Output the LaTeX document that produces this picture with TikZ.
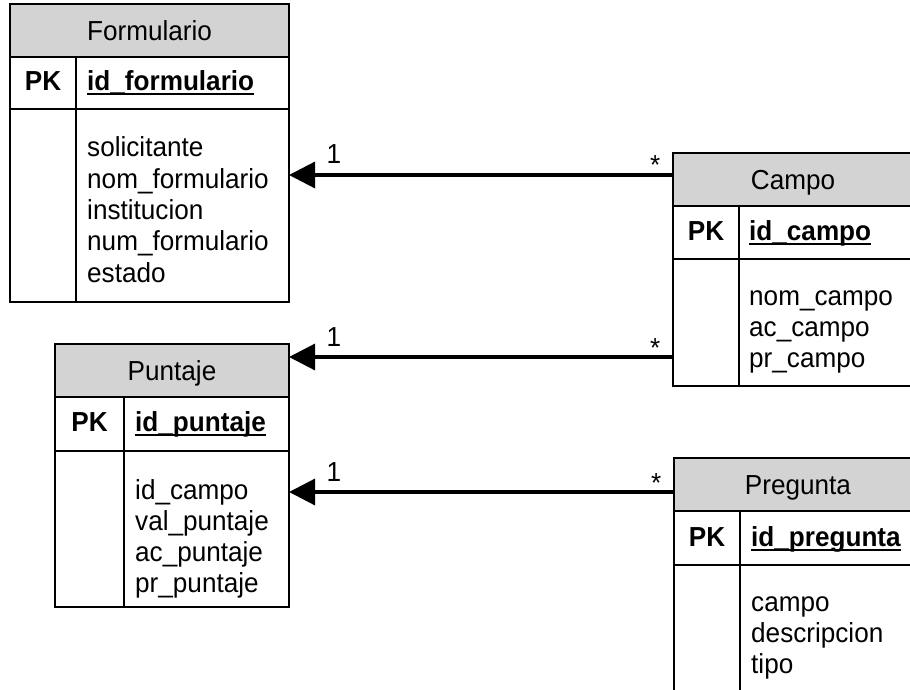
\documentclass[tikz,border=0pt]{standalone}
\usepackage{fontspec}
\setmainfont[FakeStretch=0.95]{Liberation Sans}
\usetikzlibrary{arrows.meta}
\definecolor{hdrgray}{RGB}{211,211,211}
\newcommand\erfont{\fontsize{27.5}{31.5}\selectfont}

\begin{document}
\begin{tikzpicture}[x=1pt,y=-1pt,
  tbl/.style={draw,line width=2pt,anchor=north west,inner sep=0,outer sep=0},
  thead/.style={tbl,fill=hdrgray,minimum height=53pt,text height=19.7pt,text depth=0pt,font=\erfont},
  tline/.style={line width=2pt},
  pkf/.style={anchor=base,inner sep=0,font=\erfont\bfseries},
  keyf/.style={anchor=base west,inner sep=0,font=\erfont\bfseries},
  uline/.style={line width=2pt},
  attr/.style={anchor=base west,inner sep=0,font=\erfont},
  rel/.style={line width=3.2pt,-{Triangle[length=26pt,width=26pt]}},
  one/.style={anchor=base west,xshift=36pt,yshift=11pt,inner sep=0,font=\erfont},
  many/.style={anchor=base east,xshift=-11pt,inner sep=0,font=\erfont}]
\useasboundingbox (0,0) rectangle (910,690);
\clip (0,0) rectangle (910,690);

% Formulario
\node[tbl,minimum width=279pt,minimum height=298pt] (form) at (10,4) {};
\node[thead,minimum width=279pt] (formH) at (10,4) {Formulario};
\draw[tline] (10,109) -- (289,109);
\draw[tline] (76,57) -- (76,302);
\node[pkf] (formPK) at (43,90.7) {PK};
\node[keyf] (formId) at (87,90.7) {id\_formulario};
\draw[uline] ([yshift=-3.6pt]formId.base west) -- ([yshift=-3.6pt]formId.base east);
\foreach \t [count=\i from 0] in {solicitante,nom\_formulario,institucion,num\_formulario,estado}
  \node[attr] (formA\i) at (87,157+31.3*\i) {\t};

% Campo
\node[tbl,minimum width=240pt,minimum height=233pt] (campo) at (673,153) {};
\node[thead,minimum width=240pt] (campoH) at (673,153) {Campo};
\draw[tline] (673,259) -- (913,259);
\draw[tline] (739,205) -- (739,386);
\node[pkf] (campoPK) at (706,240) {PK};
\node[keyf] (campoId) at (749,240) {id\_campo};
\draw[uline] ([yshift=-3.6pt]campoId.base west) -- ([yshift=-3.6pt]campoId.base east);
\foreach \t [count=\i from 0] in {nom\_campo,ac\_campo,pr\_campo}
  \node[attr] (campoA\i) at (749,305+31*\i) {\t};

% Puntaje
\node[tbl,minimum width=234pt,minimum height=263pt] (punt) at (55,344) {};
\node[thead,minimum width=234pt] (puntH) at (55,344) {Puntaje};
\draw[tline] (55,451) -- (289,451);
\draw[tline] (124,396) -- (124,607);
\node[pkf] (puntPK) at (89.5,431.7) {PK};
\node[keyf] (puntId) at (135,431.7) {id\_puntaje};
\draw[uline] ([yshift=-3.6pt]puntId.base west) -- ([yshift=-3.6pt]puntId.base east);
\foreach \t [count=\i from 0] in {id\_campo,val\_puntaje,ac\_puntaje,pr\_puntaje}
  \node[attr] (puntA\i) at (135,499+31*\i) {\t};

% Pregunta
\node[tbl,minimum width=248pt,minimum height=300pt] (preg) at (674,458) {};
\node[thead,minimum width=248pt] (pregH) at (674,458) {Pregunta};
\draw[tline] (674,565) -- (922,565);
\draw[tline] (740,511) -- (740,758);
\node[pkf] (pregPK) at (707,546) {PK};
\node[keyf] (pregId) at (751,546) {id\_pregunta};
\draw[uline] ([yshift=-3.6pt]pregId.base west) -- ([yshift=-3.6pt]pregId.base east);
\foreach \t [count=\i from 0] in {campo,descripcion,tipo}
  \node[attr] (pregA\i) at (751,611+31*\i) {\t};

% relaciones
\draw[rel] (campo.west |- 0,175) -- (form.east |- 0,175) node[pos=0,many] (r1m) {*} node[pos=1,one] (r1o) {1};
\draw[rel] (campo.west |- 0,357) -- (punt.east |- 0,357) node[pos=0,many] (r2m) {*} node[pos=1,one] (r2o) {1};
\draw[rel] (preg.west |- 0,492) -- (punt.east |- 0,492) node[pos=0,many] (r3m) {*} node[pos=1,one] (r3o) {1};
\end{tikzpicture}
\end{document}
